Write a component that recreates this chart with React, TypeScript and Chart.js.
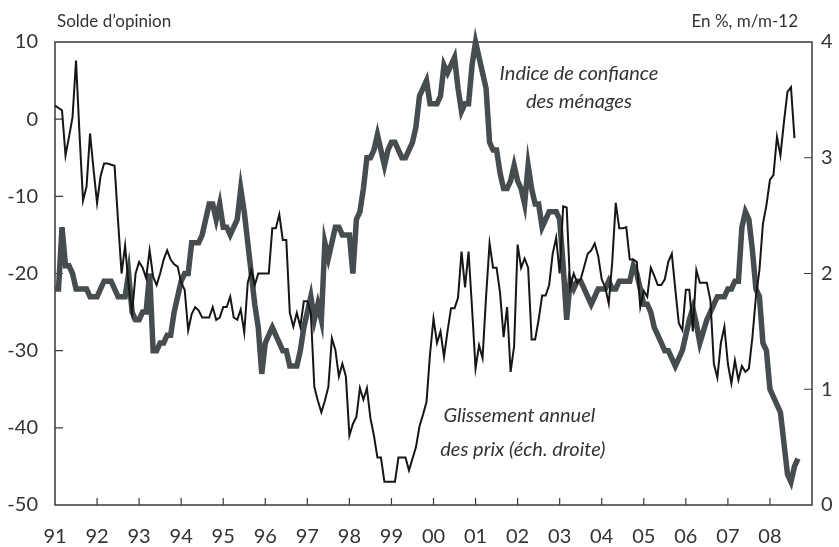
import React, { useEffect, useRef } from 'react';
import { Chart, registerables } from 'chart.js';

Chart.register(...registerables);

// Monthly data, index 0 = January 1991
const confidence: number[] = [
  -22, -22, -14, -19, -19, -20, -22, -22, -22, -22, -23, -23, // 1991
  -23, -22, -21, -21, -21, -22, -23, -23, -23, -20, -25, -26, // 1992
  -26, -25, -25, -20, -30, -30, -29, -29, -28, -28, -25, -23, // 1993
  -21, -20, -20, -16, -16, -16, -15, -13, -11, -11, -13, -11, // 1994
  -14, -14, -15, -14, -13, -9, -12, -16, -20, -24, -27, -33, // 1995
  -29, -28, -27, -28, -29, -30, -30, -32, -32, -32, -30, -27, // 1996
  -25, -23, -26, -24, -26, -16, -18, -16, -14, -14, -15, -15, // 1997
  -15, -20, -13, -12, -9, -5, -5, -4, -2, -4, -6, -4, // 1998
  -3, -3, -4, -5, -5, -4, -3, -1, 3, 4, 5, 2, // 1999
  2, 2, 3, 7, 6, 7, 8, 4, 1, 2, 2, 7, // 2000
  10, 8, 6, 4, -3, -4, -4, -7, -9, -9, -8, -6, // 2001
  -8, -9, -11, -6, -9, -11, -11, -14, -13, -12, -12, -12, // 2002
  -13, -19, -26, -21, -22, -21, -21, -22, -23, -24, -23, -22, // 2003
  -22, -22, -21, -22, -22, -21, -21, -21, -21, -19, -20, -22, // 2004
  -24, -24, -25, -27, -28, -29, -30, -30, -31, -32, -31, -30, // 2005
  -28, -26, -24.5, -26.5, -29, -27.5, -26, -25, -24, -23, -23, -23, // 2006
  -22, -22, -21, -21, -14, -12, -13, -17, -22, -23, -29, -30, // 2007
  -35, -36, -37, -38, -42, -46, -47, -45, -44, // 2008
];

const inflation: number[] = [
  3.45, 3.43, 3.41, 3.02, 3.18, 3.35, 3.84, 3.2, 2.63, 2.75, 3.21, 2.9, // 1991
  2.61, 2.84, 2.95, 2.95, 2.94, 2.93, 2.45, 2.0, 2.24, 1.9, 1.66, 2.0, // 1992
  2.1, 2.05, 1.96, 2.2, 1.97, 1.9, 2.0, 2.12, 2.2, 2.12, 2.08, 2.06, // 1993
  1.92, 1.86, 1.51, 1.65, 1.71, 1.68, 1.62, 1.62, 1.62, 1.71, 1.6, 1.62, // 1994
  1.71, 1.71, 1.8, 1.62, 1.6, 1.69, 1.49, 1.92, 2.03, 1.9, 2.0, 2.0, // 1995
  2.0, 2.0, 2.39, 2.39, 2.51, 2.29, 2.29, 1.66, 1.54, 1.66, 1.54, 1.76, // 1996
  1.76, 1.66, 1.02, 0.9, 0.8, 0.9, 1.02, 1.44, 1.34, 1.11, 1.22, 1.11, // 1997
  0.6, 0.7, 0.76, 1.01, 0.91, 1.01, 0.75, 0.6, 0.41, 0.41, 0.2, 0.2, // 1998
  0.2, 0.2, 0.41, 0.41, 0.41, 0.3, 0.4, 0.5, 0.68, 0.78, 0.89, 1.3, // 1999
  1.61, 1.4, 1.5, 1.28, 1.5, 1.7, 1.7, 1.79, 2.19, 1.88, 2.19, 1.7, // 2000
  1.18, 1.38, 1.27, 1.8, 2.26, 2.05, 2.05, 1.83, 1.45, 1.71, 1.15, 1.37, // 2001
  2.25, 2.05, 2.13, 2.05, 1.43, 1.43, 1.6, 1.81, 1.81, 1.9, 2.17, 2.31, // 2002
  2.0, 2.58, 2.57, 1.88, 2.0, 1.92, 1.95, 2.06, 2.17, 2.2, 2.26, 2.15, // 2003
  1.95, 1.88, 1.74, 2.1, 2.61, 2.39, 2.39, 2.4, 2.12, 2.12, 2.1, 1.71, // 2004
  1.85, 1.8, 2.05, 1.98, 1.9, 1.9, 1.95, 2.1, 2.17, 1.86, 1.57, 1.51, // 2005
  1.86, 1.86, 1.5, 2.03, 1.92, 1.92, 1.92, 1.77, 1.22, 1.1, 1.4, 1.54, // 2006
  1.22, 1.05, 1.25, 1.08, 1.2, 1.15, 1.18, 1.45, 1.8, 2.03, 2.43, 2.59, // 2007
  2.81, 2.85, 3.18, 3.02, 3.31, 3.57, 3.61, 3.17, // 2008
];

const yearLabels = ['91', '92', '93', '94', '95', '96', '97', '98', '99', '00', '01', '02', '03', '04', '05', '06', '07', '08'];
const leftTitle = 'Solde d’opinion';
const rightTitle = 'En %, m/m-12';
const confLabel = ['Indice de confiance', 'des ménages'];
const inflLabel = ['Glissement annuel', 'des prix (éch. droite)'];

const FONT = 'Lato, "Open Sans", sans-serif';
const TEXT = '#333333';
const AXIS = '#3a3a3a';
const GRAY = '#454d50';
const BLACK = '#161616';

const framePlugin = {
  id: 'frameTicks',
  beforeDatasetsDraw(chart: any) {
    const { ctx, chartArea: a, scales } = chart;
    ctx.save();
    ctx.strokeStyle = AXIS;
    ctx.lineWidth = 1.5;
    ctx.strokeRect(a.left, a.top, a.right - a.left, a.bottom - a.top);
    ctx.lineWidth = 1.2;
    ctx.beginPath();
    scales.x.ticks.forEach((t: any) => {
      const px = scales.x.getPixelForValue(t.value);
      if (px > a.left + 1 && px < a.right - 1) {
        ctx.moveTo(px, a.bottom);
        ctx.lineTo(px, a.bottom - 7);
      }
    });
    scales.y.ticks.forEach((t: any) => {
      const py = scales.y.getPixelForValue(t.value);
      if (py > a.top + 1 && py < a.bottom - 1) {
        ctx.moveTo(a.left, py);
        ctx.lineTo(a.left + 8, py);
      }
    });
    scales.y1.ticks.forEach((t: any) => {
      const py = scales.y1.getPixelForValue(t.value);
      if (py > a.top + 1 && py < a.bottom - 1) {
        ctx.moveTo(a.right, py);
        ctx.lineTo(a.right - 8, py);
      }
    });
    ctx.stroke();
    ctx.restore();
  },
  afterDraw(chart: any) {
    const { ctx, chartArea: a, scales } = chart;
    ctx.save();
    ctx.fillStyle = TEXT;
    ctx.font = `17px ${FONT}`;
    ctx.textBaseline = 'alphabetic';
    ctx.textAlign = 'left';
    ctx.fillText(leftTitle, a.left + 2, 27);
    ctx.textAlign = 'right';
    ctx.fillText(rightTitle, a.right - 14, 27);

    ctx.font = `italic 20px ${FONT}`;
    ctx.textAlign = 'center';
    const x = scales.x, y = scales.y;
    ctx.fillText(confLabel[0], x.getPixelForValue(149.5), y.getPixelForValue(5.1));
    ctx.fillText(confLabel[1], x.getPixelForValue(149.5), y.getPixelForValue(1.5));
    ctx.fillText(inflLabel[0], x.getPixelForValue(132.5), y.getPixelForValue(-39.3));
    ctx.fillText(inflLabel[1], x.getPixelForValue(133.5), y.getPixelForValue(-43.6));
    ctx.restore();
  },
};

export default function App() {
  const ref = useRef<HTMLCanvasElement | null>(null);
  useEffect(() => {
    document.body.style.margin = '0';
    document.body.style.overflow = 'hidden';
    const canvas = ref.current;
    if (!canvas) return;
    const tickFont = { family: FONT, size: 20 };
    const chart = new Chart(canvas, {
      type: 'line',
      data: {
        datasets: [
          {
            label: 'Glissement annuel des prix',
            data: inflation.map((v, i) => ({ x: i, y: v })),
            yAxisID: 'y1',
            borderColor: BLACK,
            borderWidth: 2,
            pointRadius: 0,
            tension: 0,
            clip: false as any,
          },
          {
            label: 'Indice de confiance des ménages',
            data: confidence.map((v, i) => ({ x: i, y: v })),
            yAxisID: 'y',
            borderColor: GRAY,
            borderWidth: 5.5,
            pointRadius: 0,
            tension: 0,
            clip: false as any,
          },
        ],
      },
      options: {
        animation: false,
        responsive: false,
        events: [],
        layout: { padding: { top: 42, left: 0, right: 0, bottom: 0 } },
        plugins: { legend: { display: false }, tooltip: { enabled: false } },
        scales: {
          x: {
            type: 'linear',
            min: 0,
            max: 216,
            afterFit: (s: any) => { s.height = 42; },
            grid: { display: false, drawTicks: false },
            border: { display: false },
            ticks: {
              stepSize: 12,
              autoSkip: false,
              maxRotation: 0,
              padding: 20,
              color: TEXT,
              font: tickFont,
              callback: (v: any) => yearLabels[Math.round(Number(v) / 12)] ?? '',
            },
          },
          y: {
            position: 'left',
            min: -50,
            max: 10,
            afterFit: (s: any) => { s.width = 55; },
            grid: { display: false, drawTicks: false },
            border: { display: false },
            ticks: { stepSize: 10, padding: 17, color: TEXT, font: tickFont },
          },
          y1: {
            position: 'right',
            min: 0,
            max: 4,
            afterFit: (s: any) => { s.width = 27; },
            grid: { display: false, drawTicks: false },
            border: { display: false },
            ticks: { stepSize: 1, padding: 9, color: TEXT, font: tickFont },
          },
        },
      },
      plugins: [framePlugin],
    });
    return () => chart.destroy();
  }, []);
  return (
    <div style={{ width: 839, height: 547 }}>
      <canvas ref={ref} width={839} height={547} />
    </div>
  );
}
